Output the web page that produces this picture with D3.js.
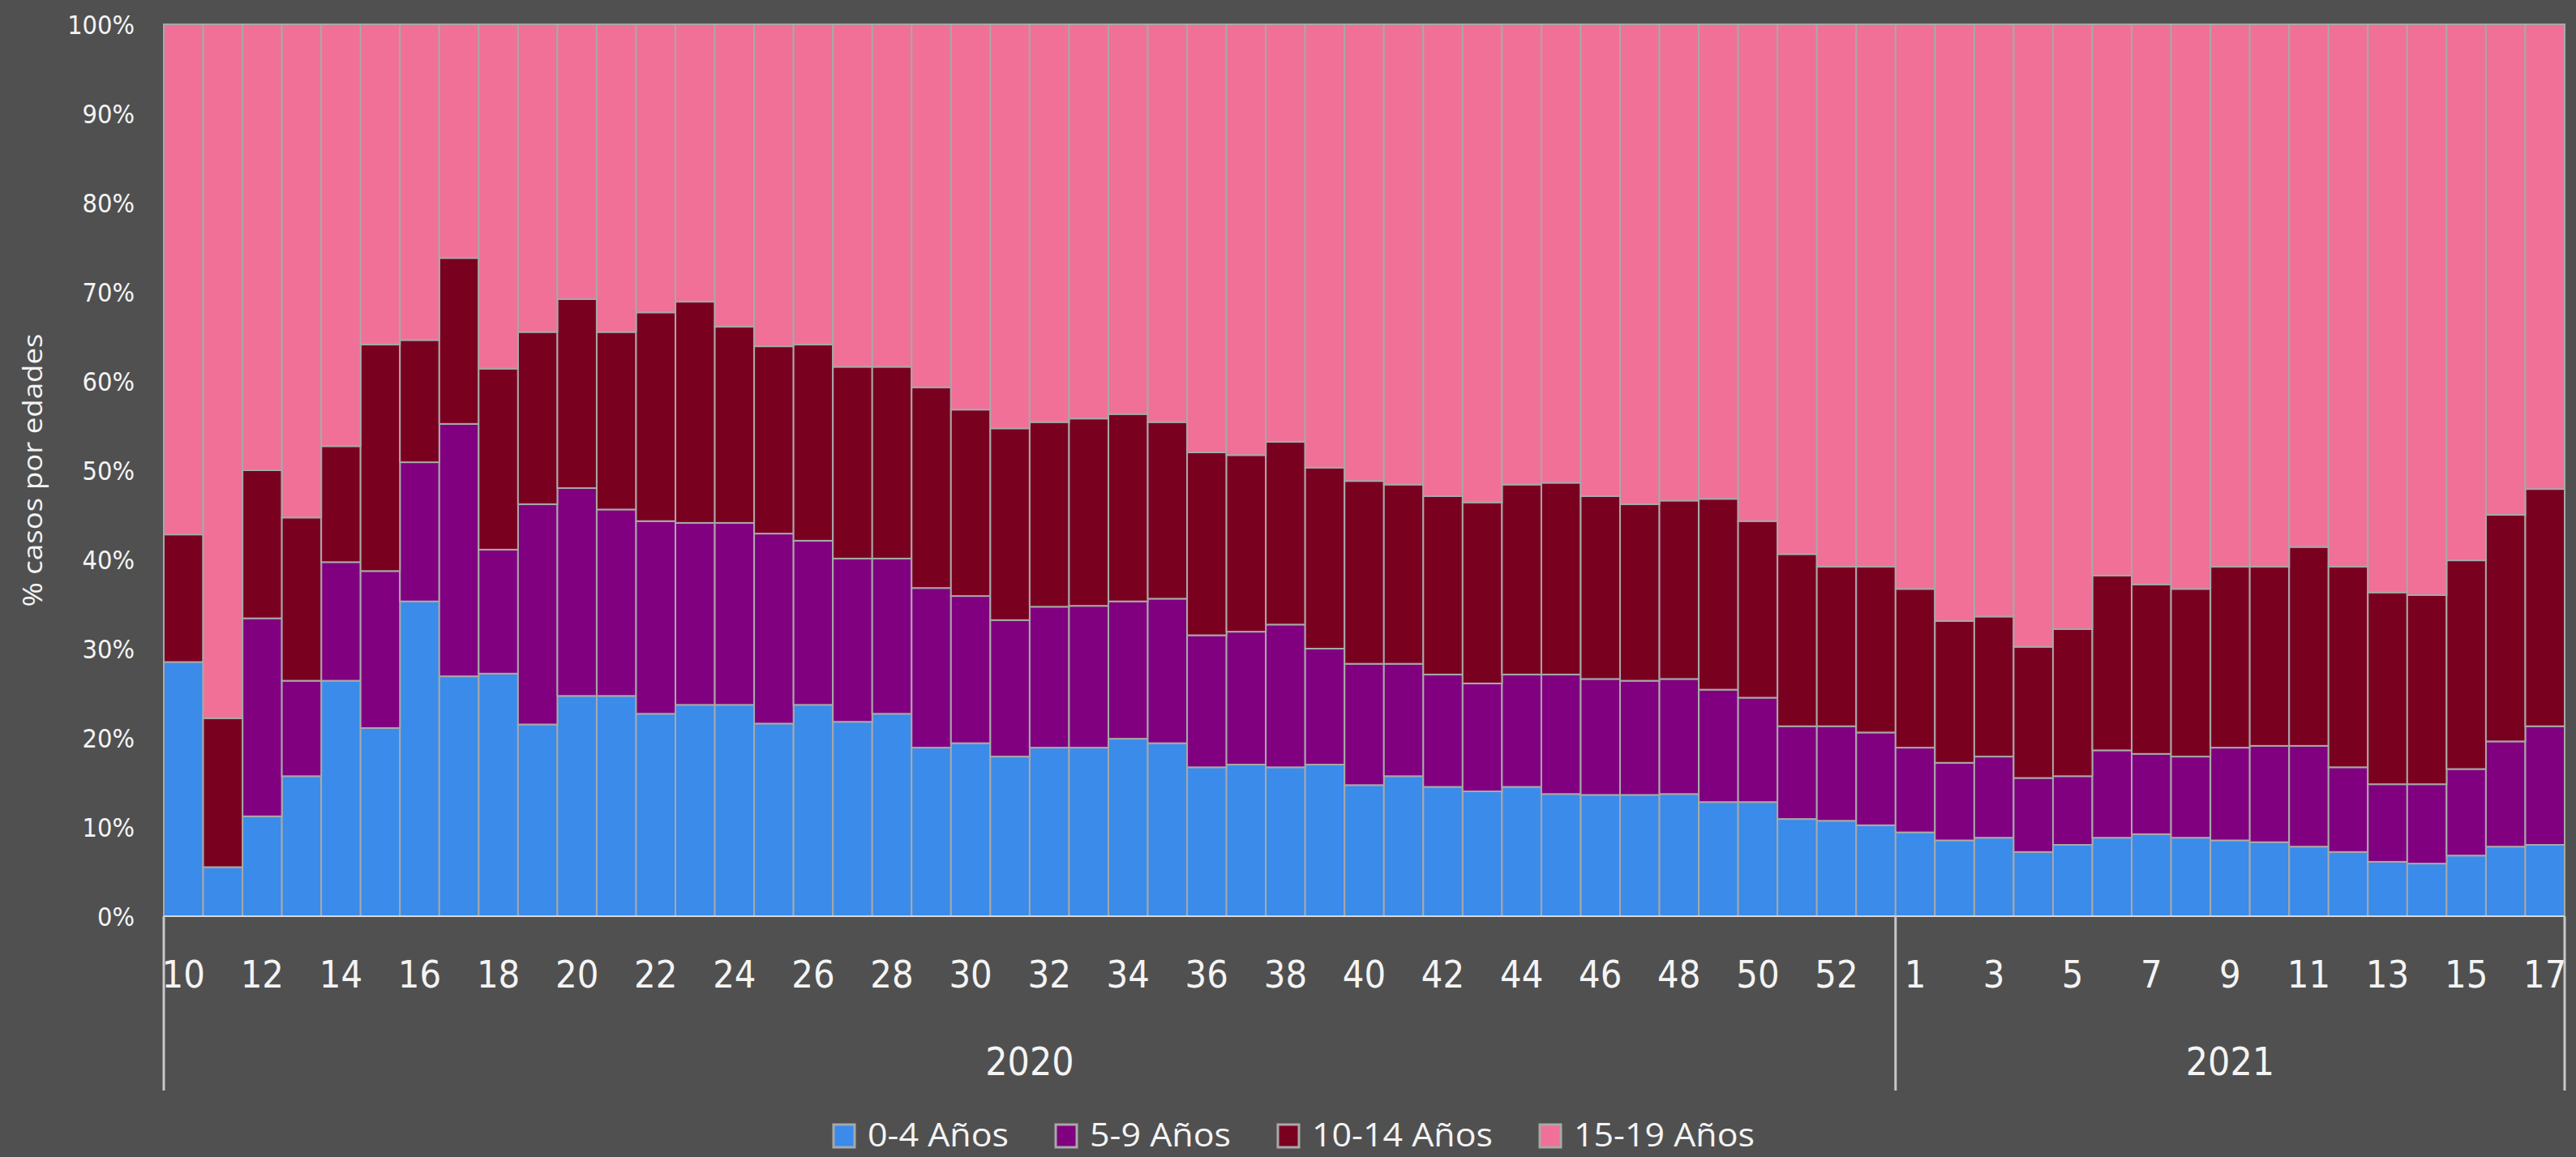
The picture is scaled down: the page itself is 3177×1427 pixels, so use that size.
<!DOCTYPE html>
<html>
<head>
<meta charset="utf-8">
<script src="https://cdn.jsdelivr.net/npm/d3@7"></script>
<style>
html, body { margin: 0; padding: 0; background: #505050; overflow: hidden; }
</style>
</head>
<body>
<script>
// semanas epidemiologicas
const weeks2020 = [10,11,12,13,14,15,16,17,18,19,20,21,22,23,24,25,26,27,28,29,30,31,32,33,34,35,36,37,38,39,40,41,42,43,44,45,46,47,48,49,50,51,52,53];
const weeks2021 = [1,2,3,4,5,6,7,8,9,10,11,12,13,14,15,16,17];

// % de casos por grupo de edad (2020 semanas 10-53, luego 2021 semanas 1-17)
const age0_4 = [28.5,5.5,11.2,15.7,26.4,21.1,35.3,26.9,27.2,21.5,24.7,24.7,22.7,23.7,23.7,21.6,23.7,21.8,22.7,18.9,19.4,17.9,18.9,18.9,19.9,19.4,16.7,17.0,16.7,17.0,14.7,15.7,14.5,14.0,14.5,13.7,13.6,13.6,13.7,12.8,12.8,10.9,10.7,10.2,
  9.4,8.5,8.8,7.2,8.0,8.8,9.2,8.8,8.5,8.3,7.8,7.2,6.1,5.9,6.8,7.8,8.0];
const age5_9 = [0,0,22.2,10.7,13.3,17.6,15.6,28.3,13.9,24.7,23.3,20.9,21.6,20.4,20.4,21.3,18.4,18.3,17.4,17.9,16.5,15.3,15.8,15.9,15.4,16.2,14.8,14.9,16.0,13.0,13.6,12.6,12.6,12.1,12.6,13.4,13.0,12.8,12.9,12.6,11.7,10.4,10.6,10.4,
  9.5,8.7,9.1,8.3,7.7,9.8,9.0,9.1,10.4,10.8,11.3,9.5,8.7,8.9,9.7,11.8,13.3];
const age10_14 = [14.3,16.7,16.6,18.3,13.0,25.4,13.7,18.6,20.3,19.3,21.2,19.9,23.4,24.8,22.0,21.0,22.0,21.5,21.5,22.5,20.9,21.5,20.7,21.0,21.0,19.8,20.5,19.8,20.5,20.3,20.5,20.1,20.0,20.3,21.3,21.5,20.5,19.8,20.0,21.4,19.8,19.3,17.9,18.6,
  17.8,15.9,15.7,14.7,16.5,19.6,19.0,18.8,20.3,20.1,22.3,22.5,21.5,21.2,23.4,25.4,26.6];
const age15_19 = [57.2,77.8,50.0,55.3,47.3,35.9,35.4,26.2,38.6,34.5,30.8,34.5,32.3,31.1,33.9,36.1,35.9,38.4,38.4,40.7,43.2,45.3,44.6,44.2,43.7,44.6,48.0,48.3,46.8,49.7,51.2,51.6,52.9,53.6,51.6,51.4,52.9,53.8,53.4,53.2,55.7,59.4,60.8,60.8,
  63.3,66.9,66.4,69.8,67.8,61.8,62.8,63.3,60.8,60.8,58.6,60.8,63.7,64.0,60.1,55.0,52.1];

const seriesNames = ["0-4 Años", "5-9 Años", "10-14 Años", "15-19 Años"];
const seriesColors = ["#3a8bea", "#800080", "#7a0020", "#f07098"];
const yTicks = [0,10,20,30,40,50,60,70,80,90,100];
const years = ["2020", "2021"];
const yTitle = "% casos por edades";

const W = 3177, H = 1427;
const margin = {left: 202, right: 14, top: 30, bottom: 297};
const textColor = "#f4f4f4";
const stretch = 1.12;

// filas de la tabla
const rows = [];
weeks2020.forEach(w => rows.push({year: "2020", week: w}));
weeks2021.forEach(w => rows.push({year: "2021", week: w}));
const cols = [age0_4, age5_9, age10_14, age15_19];
rows.forEach((r, i) => {
  r.key = r.year + "-" + r.week;
  seriesNames.forEach((s, j) => r[s] = cols[j][i]);
});

const svg = d3.select("body").append("svg")
  .attr("width", W)
  .attr("height", H)
  .style("display", "block")
  .style("background", "#505050");

const x = d3.scaleBand()
  .domain(rows.map(d => d.key))
  .range([margin.left, W - margin.right])
  .padding(0);

const y = d3.scaleLinear()
  .domain([0, 100])
  .range([H - margin.bottom, margin.top]);

const stacked = d3.stack().keys(seriesNames)(rows);

// barras apiladas
svg.append("g").selectAll("g")
  .data(stacked)
  .join("g")
    .attr("fill", (d, i) => seriesColors[i])
  .selectAll("rect")
  .data(d => d)
  .join("rect")
    .attr("x", d => x(d.data.key))
    .attr("y", d => y(d[1]))
    .attr("width", x.bandwidth())
    .attr("height", d => Math.max(0, y(d[0]) - y(d[1])))
    .attr("stroke", "#a8a8a8")
    .attr("stroke-width", 2);

// eje y
const yAxis = svg.append("g");
yAxis.selectAll("text")
  .data(yTicks)
  .join("text")
    .attr("transform", d => `translate(166,${y(d)}) scale(1,${stretch})`)
    .attr("text-anchor", "end")
    .attr("dy", "0.36em")
    .attr("font-family", "DejaVu Sans, Verdana, sans-serif")
    .attr("font-size", 29)
    .attr("fill", textColor)
    .text(d => d + "%");

svg.append("text")
  .attr("transform", `translate(52,${(y(0) + y(100)) / 2}) rotate(-90)`)
  .attr("text-anchor", "middle")
  .attr("font-family", "Liberation Sans Narrow, Open Sans, sans-serif")
  .attr("font-size", 32)
  .attr("textLength", 337)
  .attr("lengthAdjust", "spacingAndGlyphs")
  .attr("fill", textColor)
  .text(yTitle);

// linea base
svg.append("line")
  .attr("x1", margin.left).attr("x2", W - margin.right)
  .attr("y1", y(0)).attr("y2", y(0))
  .attr("stroke", "#d8d8d8").attr("stroke-width", 2);

// etiquetas de semana (una de cada dos, como en el original)
const labelled = rows.filter((d, i) => d.year === "2020" ? (d.week % 2 === 0) : (d.week % 2 === 1));
svg.append("g").selectAll("text")
  .data(labelled)
  .join("text")
    .attr("transform", d => `translate(${x(d.key) + x.bandwidth() / 2},${1201}) scale(1,${stretch})`)
    .attr("text-anchor", "middle")
    .attr("dy", "0.36em")
    .attr("font-family", "DejaVu Sans, Verdana, sans-serif")
    .attr("font-size", 42)
    .attr("fill", textColor)
    .text(d => d.week);

// separadores de año
const firstOf = yr => rows.find(d => d.year === yr).key;
const lastOf = yr => rows.filter(d => d.year === yr).slice(-1)[0].key;
const sepX = [x(firstOf("2020")), x(firstOf("2021")), x(lastOf("2021")) + x.bandwidth()];
svg.append("g").selectAll("line")
  .data(sepX)
  .join("line")
    .attr("x1", d => d).attr("x2", d => d)
    .attr("y1", y(0)).attr("y2", 1345)
    .attr("stroke", "#c8c8c8")
    .attr("stroke-width", 3);

svg.append("g").selectAll("text")
  .data(years)
  .join("text")
    .attr("transform", d => `translate(${(x(firstOf(d)) + x(lastOf(d)) + x.bandwidth()) / 2},${1309}) scale(1,${stretch})`)
    .attr("text-anchor", "middle")
    .attr("dy", "0.36em")
    .attr("font-family", "DejaVu Sans, Verdana, sans-serif")
    .attr("font-size", 43)
    .attr("fill", textColor)
    .text(d => d);

// leyenda
const legendLen = [174, 174, 223, 223];
const legend = svg.append("g");
let lx = 1028;
seriesNames.forEach((s, i) => {
  legend.append("rect")
    .attr("x", lx).attr("y", 1387)
    .attr("width", 26).attr("height", 28)
    .attr("fill", seriesColors[i])
    .attr("stroke", "#a8a8a8").attr("stroke-width", 3);
  legend.append("text")
    .attr("x", lx + 42).attr("y", 1414)
    .attr("font-family", "Liberation Sans Narrow, Open Sans, sans-serif")
    .attr("font-size", 40)
    .attr("textLength", legendLen[i])
    .attr("lengthAdjust", "spacingAndGlyphs")
    .attr("fill", textColor)
    .text(s);
  lx += 42 + legendLen[i] + 58;
});
</script>
</body>
</html>
